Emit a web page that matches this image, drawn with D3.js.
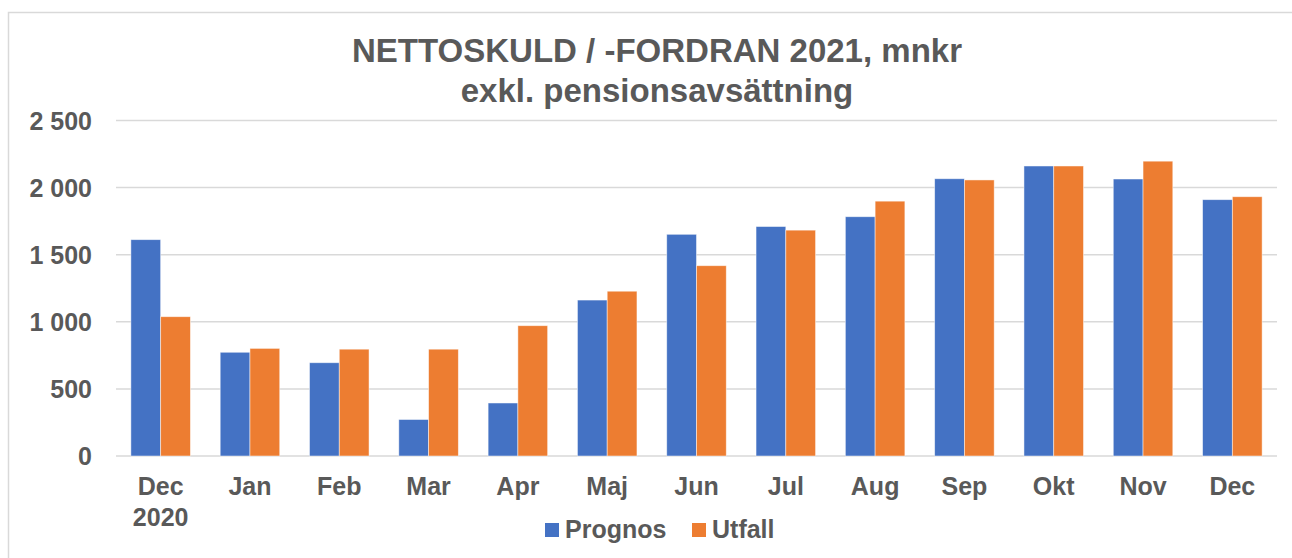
<!DOCTYPE html>
<html>
<head>
<meta charset="utf-8">
<script src="https://cdn.jsdelivr.net/npm/d3@7"></script>
<style>
    body { margin: 0; background: #ffffff; }
    text { font-family: "Liberation Sans", Arial, sans-serif; font-weight: bold; fill: #595959; }
</style>
</head>
<body>
<div id="chart"></div>
<script>
// data
var categories = ["Dec\n2020", "Jan", "Feb", "Mar", "Apr", "Maj", "Jun", "Jul", "Aug", "Sep", "Okt", "Nov", "Dec"];
var prognos = [1612, 773, 695, 272, 395, 1162, 1652, 1710, 1783, 2066, 2161, 2064, 1910];
var utfall = [1038, 802, 796, 796, 971, 1228, 1418, 1683, 1899, 2057, 2161, 2197, 1932];
var seriesNames = ["Prognos", "Utfall"];
var seriesColors = ["#4472C4", "#ED7D31"];
var yTicks = [0, 500, 1000, 1500, 2000, 2500];

var width = 1292;
var height = 558;

var svg = d3.select("#chart")
    .append("svg")
    .attr("width", width)
    .attr("height", height);

// chart border
svg.append("rect")
    .attr("x", 8.5)
    .attr("y", 12.5)
    .attr("width", 1310)
    .attr("height", 570)
    .attr("fill", "none")
    .attr("stroke", "#d9d9d9")
    .attr("stroke-width", 1.5);

// title
svg.append("text")
    .attr("x", 657)
    .attr("y", 62)
    .attr("text-anchor", "middle")
    .style("font-size", "33px")
    .text("NETTOSKULD / -FORDRAN 2021, mnkr");
svg.append("text")
    .attr("x", 657)
    .attr("y", 102)
    .attr("text-anchor", "middle")
    .style("font-size", "33px")
    .text("exkl. pensionsavsättning");

var x = d3.scaleBand()
    .domain(d3.range(categories.length))
    .range([116, 1277])
    .paddingInner(0)
    .paddingOuter(0);

var xInner = d3.scaleBand()
    .domain([0, 1])
    .range([x.bandwidth() / 6, x.bandwidth() * 5 / 6]);

var y = d3.scaleLinear()
    .domain([0, 2500])
    .range([456, 120.5]);

// gridlines
svg.append("g")
    .selectAll("line")
    .data(yTicks)
    .enter()
    .append("line")
    .attr("x1", 116)
    .attr("x2", 1277)
    .attr("y1", function (d) { return y(d); })
    .attr("y2", function (d) { return y(d); })
    .attr("stroke", "#d9d9d9")
    .attr("stroke-width", 1.5);

// y labels
svg.append("g")
    .selectAll("text")
    .data(yTicks)
    .enter()
    .append("text")
    .attr("x", 92)
    .attr("y", function (d) { return y(d); })
    .attr("dy", "0.36em")
    .attr("text-anchor", "end")
    .style("font-size", "25px")
    .text(function (d) { return d3.format(",")(d).replace(",", " "); });

// bars
var groups = svg.append("g")
    .selectAll("g")
    .data(categories)
    .enter()
    .append("g")
    .attr("transform", function (d, i) { return "translate(" + x(i) + ",0)"; });

groups.selectAll("rect")
    .data(function (d, i) { return [prognos[i], utfall[i]]; })
    .enter()
    .append("rect")
    .attr("x", function (d, j) { return xInner(j); })
    .attr("y", function (d) { return y(d); })
    .attr("width", xInner.bandwidth())
    .attr("height", function (d) { return y(0) - y(d); })
    .attr("fill", function (d, j) { return seriesColors[j]; })
    .attr("stroke", "#ffffff")
    .attr("stroke-opacity", 0.6)
    .attr("stroke-width", 0.8);

// category labels
groups.each(function (d, i) {
    var lines = d.split("\n");
    var t = d3.select(this).append("text")
        .attr("x", x.bandwidth() / 2)
        .attr("y", 495)
        .attr("text-anchor", "middle")
        .style("font-size", "25px");
    lines.forEach(function (l, k) {
        t.append("tspan")
            .attr("x", x.bandwidth() / 2)
            .attr("dy", k == 0 ? 0 : 31)
            .text(l);
    });
});

// legend
var legendX = [545, 692];
var legend = svg.append("g")
    .selectAll("g")
    .data(seriesNames)
    .enter()
    .append("g")
    .attr("transform", function (d, i) { return "translate(" + legendX[i] + ",0)"; });

legend.append("rect")
    .attr("x", 0)
    .attr("y", 523)
    .attr("width", 14)
    .attr("height", 14)
    .attr("fill", function (d, i) { return seriesColors[i]; });

legend.append("text")
    .attr("x", 20)
    .attr("y", 538)
    .style("font-size", "25px")
    .text(function (d) { return d; });
</script>
</body>
</html>
